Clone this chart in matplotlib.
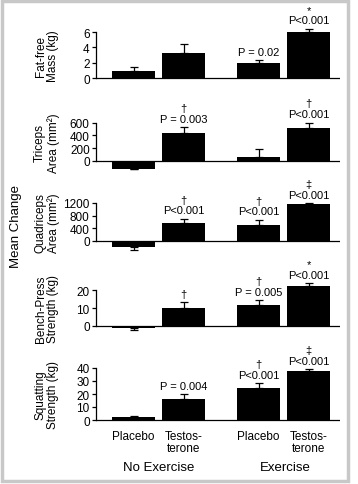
import matplotlib
matplotlib.use('Agg')
import matplotlib.pyplot as plt
from matplotlib.patches import Rectangle

plt.rcParams['font.family'] = ['Liberation Sans', 'DejaVu Sans']

# bar positions: no exercise (placebo, testosterone), exercise (placebo, testosterone)
groups = ['Placebo', 'Testos-\nterone', 'Placebo', 'Testos-\nterone']
group_pos = [0, 1, 2.5, 3.5]
exercise_labels = ['No Exercise', 'Exercise']

ylabels = ['Fat-free\nMass (kg)', 'Triceps\nArea (mm²)', 'Quadriceps\nArea (mm²)',
           'Bench-Press\nStrength (kg)', 'Squatting\nStrength (kg)']

fat_free = [0.95, 3.3, 2.0, 6.0]
fat_free_err = [0.5, 1.2, 0.35, 0.4]
triceps = [-120, 435, 55, 510]
triceps_err = [0, 90, 125, 90]
quadriceps = [-200, 570, 510, 1170]
quadriceps_err = [90, 130, 155, 30]
bench = [-1.2, 9.8, 11.7, 22.2]
bench_err = [0.8, 3.4, 2.7, 1.5]
squat = [2.1, 16.2, 24.6, 37.4]
squat_err = [0.7, 3.8, 3.6, 1.6]

fat_free_ann = ['', '', 'P = 0.02', '*\nP<0.001']
triceps_ann = ['', '†\nP = 0.003', '', '†\nP<0.001']
quadriceps_ann = ['', '†\nP<0.001', '†\nP<0.001', '‡\nP<0.001']
bench_ann = ['', '†', '†\nP = 0.005', '*\nP<0.001']
squat_ann = ['', 'P = 0.004', '†\nP<0.001', '‡\nP<0.001']

panels = [
    (fat_free, fat_free_err, fat_free_ann, [0, 2, 4, 6]),
    (triceps, triceps_err, triceps_ann, [0, 200, 400, 600]),
    (quadriceps, quadriceps_err, quadriceps_ann, [0, 400, 800, 1200]),
    (bench, bench_err, bench_ann, [0, 10, 20]),
    (squat, squat_err, squat_ann, [0, 10, 20, 30, 40]),
]

# layout in pixels: y of zero line, y of top tick, y limits
W, H = 358, 485
layout = [(79, 33, -0.5, 7), (162, 123.5, -200, 700), (242, 204, -350, 1400),
          (327, 291, -3, 25), (421, 369, -2, 45)]
x_left, x_right = 96, 340
label_x = (47 - x_left) / (x_right - x_left)

fig = plt.figure(figsize=(W / 100, H / 100), dpi=100)
fig.patch.set_facecolor('white')

for i, ((vals, errs, anns, ticks), (y0, yt, lo, hi)) in enumerate(zip(panels, layout)):
    s = (y0 - yt) / ticks[-1]
    bot_px = y0 - lo * s
    top_px = y0 - hi * s
    ax = fig.add_axes([x_left / W, 1 - bot_px / H, (x_right - x_left) / W, (bot_px - top_px) / H])
    ax.set_ylim(lo, hi)
    ax.set_xlim(-0.75, 4.13)
    ax.bar(group_pos, vals, width=0.86, color='black', zorder=3)
    lower = [e if v < 0 else 0 for v, e in zip(vals, errs)]
    upper = [e if v >= 0 else 0 for v, e in zip(vals, errs)]
    ax.errorbar(group_pos, vals, yerr=[lower, upper], fmt='none', ecolor='black',
                elinewidth=0.9, capsize=2.6, capthick=0.9, zorder=2)
    ax.axhline(0, color='black', lw=0.9, zorder=4)
    for x, v, e, a in zip(group_pos, vals, errs, anns):
        if a:
            ax.annotate(a, (x, v + (e if v >= 0 else 0)), xytext=(0, 2.5),
                        textcoords='offset points', ha='center', va='bottom',
                        fontsize=8, linespacing=1.1)
    for sp in ['top', 'right', 'bottom']:
        ax.spines[sp].set_visible(False)
    ax.spines['left'].set_bounds(0, ticks[-1])
    ax.spines['left'].set_linewidth(0.9)
    ax.set_yticks(ticks)
    ax.tick_params(axis='y', direction='out', length=3, width=0.9, labelsize=8.5, pad=1.5)
    ax.patch.set_alpha(0)
    if i < 4:
        ax.set_xticks([])
    else:
        ax.set_xticks(group_pos)
        ax.set_xticklabels(groups, fontsize=8.5, linespacing=1.1)
        ax.tick_params(axis='x', length=0, pad=5)
    ax.text(label_x, 0.5 * ticks[-1], ylabels[i], transform=ax.get_yaxis_transform(),
            rotation=90, ha='center', va='center', fontsize=8.5, linespacing=1.1)

fig.text(159 / W, 1 - 468 / H, exercise_labels[0], ha='center', va='center', fontsize=9.5)
fig.text(285 / W, 1 - 468 / H, exercise_labels[1], ha='center', va='center', fontsize=9.5)
fig.text(16 / W, 1 - 226 / H, 'Mean Change', rotation=90, ha='center', va='center', fontsize=9.5)

# light grey frame around the figure
fig.patches.append(Rectangle((1.5 / W, 1 - 482 / H), 346 / W, 480 / H, transform=fig.transFigure,
                             fill=False, edgecolor='#c8c8c8', lw=2.5))

fig.savefig('out.png', dpi=100)
